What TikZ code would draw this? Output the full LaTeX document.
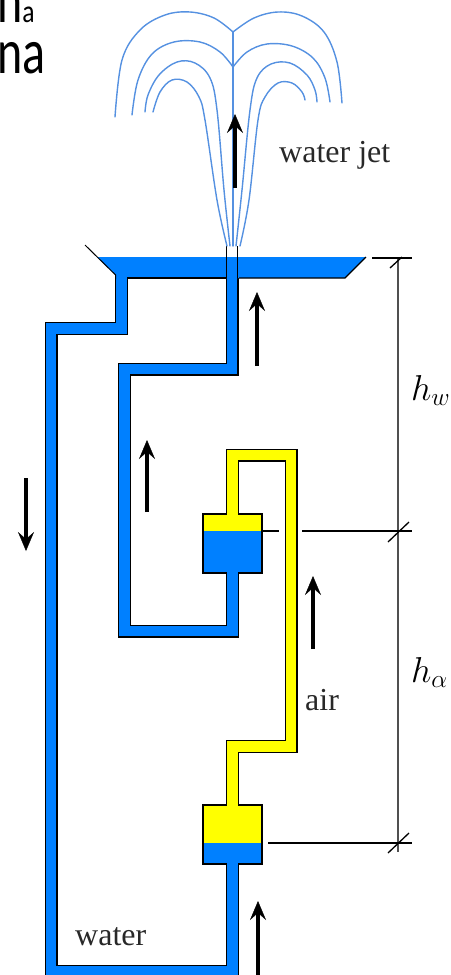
\RequirePackage{fix-cm}
\documentclass[tikz,border=0pt]{standalone}
\usepackage{fontspec}
\setmainfont{Liberation Serif}
\newfontfamily\titlefont{Carlito}
\usetikzlibrary{arrows.meta}

\definecolor{waterblue}{RGB}{0,128,255}
\definecolor{airyellow}{RGB}{255,255,0}
\definecolor{jetblue}{RGB}{85,145,225}
\definecolor{dimgray}{RGB}{80,80,80}
\definecolor{labelgray}{RGB}{40,40,40}

\tikzset{
  pipe/.style={draw=black, line width=1.3pt, double distance=10.4pt, line join=miter},
  waterpipe/.style={pipe, double=waterblue},
  airpipe/.style={pipe, double=airyellow},
  outline/.style={draw=black, line width=1.3pt, line join=miter},
  flow/.style={line width=3.2pt, -{Stealth[length=19pt,width=16pt,inset=7pt,line width=0.4pt]}},
  jet/.style={draw=jetblue, line width=1.4pt, line cap=round},
  dimline/.style={draw=black, line width=1.3pt},
  label/.style={inner sep=0pt, anchor=base west, text=labelgray, font=\fontsize{32}{36}\selectfont},
  mathlabel/.style={inner sep=0pt, anchor=base west, font=\fontsize{36}{40}\selectfont},
}
\newcommand{\subsz}{\fontsize{32}{32}\selectfont}

\begin{document}
\begin{tikzpicture}[x=1pt,y=-1pt]
\useasboundingbox (0,0) rectangle (450,975);
\clip (0,0) rectangle (450,975);

% title fragments (two lines, partly outside the frame); base = last line
\node[inner sep=0pt, anchor=base west, align=left,
      font=\titlefont\fontsize{64}{51}\selectfont] (ttl) at (-3,73)
  {\scalebox{0.75}[1]{h}{\subsz\scalebox{0.8}[1]{a}}\\
   \scalebox{0.75}[1]{na}};

% dimension lines
\coordinate (dtop) at (398,258);
\coordinate (dbot) at (398,852);
\draw[draw=dimgray, line width=1.6pt] (dtop) -- (dbot);
\draw[dimline] (372,258) -- (412,258);
\draw[dimline] (390,268) -- (402,257);
\draw[dimline] (263,531) -- (279,531);
\draw[dimline] (302,531) -- (412,531);
\draw[dimline] (388,542) -- (409,522);
\draw[dimline] (268,843) -- (412,843);
\draw[dimline] (388,853) -- (409,833);

% water return pipe from the basin to the lower chamber
\draw[waterpipe] (121.5,278) -- (121.5,328.5) -- (51,328.5) -- (51,971.5)
  -- (232.5,971.5) -- (232.5,864);

% riser from the upper chamber to the nozzle
\draw[waterpipe] (232.5,573) -- (232.5,631) -- (124.5,631) -- (124.5,369)
  -- (232,369) -- (232,278);

% air line between the two chambers
\draw[airpipe] (232.5,514) -- (232.5,455) -- (291,455) -- (291,746.5)
  -- (232.5,746.5) -- (232.5,805);

% upper chamber
\fill[airyellow] (203,514) rectangle (262,531);
\fill[waterblue] (203,531) rectangle (262,573);
\draw[outline] (226.6,514) -- (203,514) -- (203,573) -- (226.6,573);
\draw[outline] (238.4,573) -- (262,573) -- (262,514) -- (238.4,514);

% lower chamber
\fill[airyellow] (203,805) rectangle (262,843);
\fill[waterblue] (203,843) rectangle (262,864);
\draw[outline] (226.6,805) -- (203,805) -- (203,864) -- (226.6,864);
\draw[outline] (238.4,864) -- (262,864) -- (262,805) -- (238.4,805);

% basin
\fill[waterblue] (97,257) -- (366,257) -- (345,278) -- (115.6,278) -- (115.6,275) -- cycle;
\draw[outline, line width=1pt] (85,245) -- (115.6,275) -- (115.6,279);
\draw[outline] (127.4,278) -- (226,278);
\draw[outline] (239,278) -- (345,278) -- (366,257);
\draw[outline, line width=1pt] (226.6,278) -- (226.6,246);
\draw[outline, line width=1pt] (237.6,278) -- (237.6,246);

% fountain jet
\draw[jet] (233,32) -- (233,246);
\draw[jet] plot[smooth, tension=0.6] coordinates
  {(233,32) (214,18) (190,12) (165,15) (140,30) (122,60) (115,117)};
\draw[jet] plot[smooth, tension=0.6] coordinates
  {(233,32) (254,18) (278,12) (302,16) (324,32) (337,62) (342,103)};
\draw[jet] plot[smooth, tension=0.6] coordinates
  {(233,67) (220,52) (200,42) (174,42) (152,54) (138,80) (132,115)};
\draw[jet] plot[smooth, tension=0.6] coordinates
  {(233,67) (247,52) (267,44) (292,46) (313,58) (325,78) (330,102)};
\draw[jet] plot[smooth, tension=0.6] coordinates
  {(230,246) (224,190) (217,110) (210,78) (195,63) (177,62) (159,75) (148,95) (145,112)};
\draw[jet] plot[smooth, tension=0.6] coordinates
  {(236,246) (242,190) (250,110) (257,78) (271,64) (290,63) (307,75) (315,90) (317,102)};
\draw[jet] plot[smooth, tension=0.6] coordinates
  {(227,246) (217,200) (205,120) (199,97) (187,82) (172,80) (160,92) (153,112)};
\draw[jet] plot[smooth, tension=0.6] coordinates
  {(240,246) (249,200) (258,120) (265,97) (278,83) (292,83) (302,92) (305,100)};

% flow arrows
\coordinate (fjs) at (235,188);  \coordinate (fje) at (235,114);
\coordinate (frs) at (257,366);  \coordinate (fre) at (257,292);
\coordinate (fis) at (147,512);  \coordinate (fie) at (147,440);
\coordinate (fds) at (26,478);   \coordinate (fde) at (26,551);
\coordinate (fas) at (313,649);  \coordinate (fae) at (313,576);
\coordinate (fbs) at (258,985);  \coordinate (fbe) at (258,901);
\draw[flow] (fjs) -- (fje);
\draw[flow] (frs) -- (fre);
\draw[flow] (fis) -- (fie);
\draw[flow] (fds) -- (fde);
\draw[flow] (fas) -- (fae);
\draw[flow] (fbs) -- (fbe);

% labels
\node[label] (ljet) at (279,162) {water jet};
\node[label] (lair) at (305,710) {air};
\node[label] (lwater) at (75,945) {water};
\node[mathlabel] (lhw) at (411,400) {$h_w$};
\node[mathlabel] (lha) at (411,682) {$h_\alpha$};
\end{tikzpicture}
\end{document}
